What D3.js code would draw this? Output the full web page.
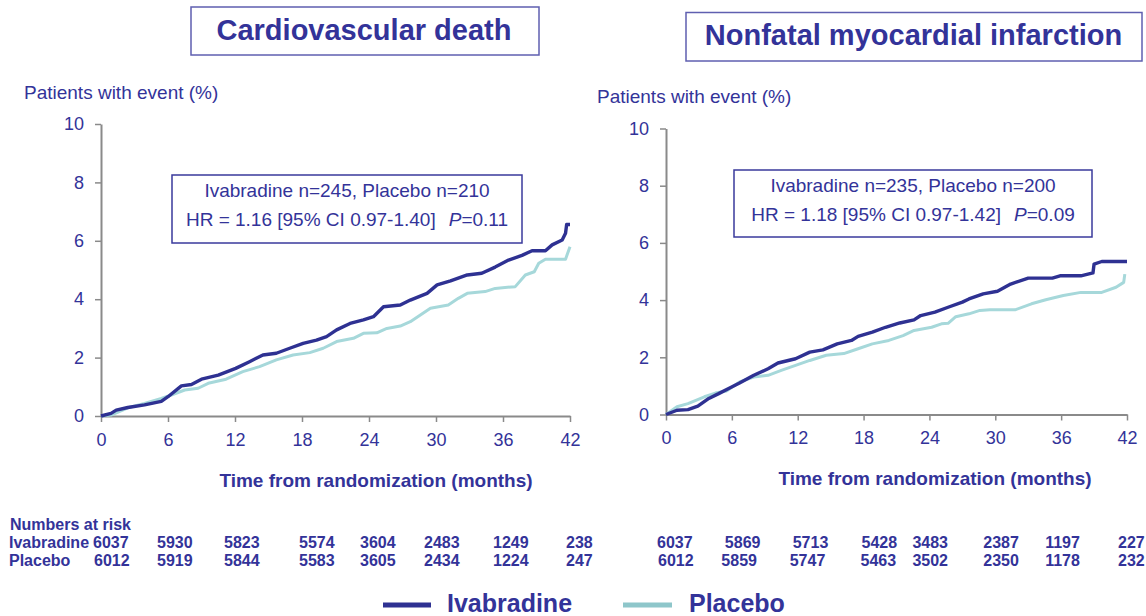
<!DOCTYPE html>
<html><head><meta charset="utf-8">
<script src="https://cdn.jsdelivr.net/npm/d3@7"></script>
<style>
body{margin:0;background:#fff}
svg{display:block}
text{font-family:"Liberation Sans",Arial,Helvetica,sans-serif}
</style>
</head><body>
<svg id="chart" width="1146" height="616"></svg>
<script>
// ---------------- DATA ----------------
const months = [0, 6, 12, 18, 24, 30, 36, 42];
const yTicks = [0, 2, 4, 6, 8, 10];
const seriesNames = ["Ivabradine", "Placebo"];
const panelTitles = ["Cardiovascular death", "Nonfatal myocardial infarction"];
const yLabel = "Patients with event (%)";
const xLabel = "Time from randomization (months)";

// Cardiovascular death – cumulative % with event
const cvIvaT = [0,0.9,1.36,2.4,3.9,5.4,6,7.2,8.1,9,10.5,12.06,13.3,14.5,15.7,16.9,18.1,19.3,20.2,21.1,22.3,23.5,24.4,25.3,26.8,27.7,29.2,30.1,31.3,32.8,34.1,35.3,36.5,37.7,38.6,39.8,40.4,41.3,41.6,41.7,42];
const cvIvaV = [0,0.09,0.2,0.29,0.38,0.5,0.66,1.03,1.08,1.26,1.4,1.63,1.86,2.09,2.15,2.32,2.49,2.6,2.72,2.95,3.17,3.29,3.4,3.74,3.8,3.97,4.2,4.49,4.63,4.83,4.89,5.1,5.34,5.5,5.66,5.66,5.86,6.03,6.26,6.56,6.56];
const cvPlaT = [0,0.9,2.4,3.9,5.4,6.3,7.5,8.7,9.6,11.2,12.7,14.2,15.7,17.2,18.7,19.9,21.1,22.6,23.5,24.7,25.6,26.8,27.7,28.6,29.5,31.1,32,32.8,34.4,35.3,37.1,38,38.8,39.2,39.8,41.6,42];
const cvPlaV = [0,0.03,0.28,0.43,0.6,0.72,0.89,0.95,1.12,1.26,1.52,1.69,1.92,2.09,2.17,2.32,2.55,2.66,2.83,2.85,3.0,3.08,3.23,3.46,3.69,3.8,4.03,4.2,4.26,4.37,4.43,4.83,4.94,5.23,5.37,5.37,5.8];

// Nonfatal MI – cumulative % with event
const miIvaT = [0,1.0,2.0,2.9,3.9,4.8,5.8,6.7,8.0,9.3,10.2,11.8,13.1,14.3,15.6,16.9,17.5,18.8,20.0,21.3,22.6,23.2,24.5,25.7,27.0,27.6,28.9,30.2,31.4,33.0,35.2,35.9,37.8,38.9,39.0,39.7,42];
const miIvaV = [0,0.15,0.17,0.29,0.56,0.73,0.93,1.1,1.37,1.6,1.8,1.95,2.18,2.26,2.47,2.59,2.73,2.88,3.05,3.2,3.31,3.46,3.58,3.75,3.93,4.04,4.22,4.31,4.56,4.77,4.77,4.85,4.85,4.95,5.26,5.35,5.35];
const miPlaT = [0,1.0,2.0,3.5,4.5,5.5,6.7,8.0,9.3,10.5,11.8,13.1,14.6,16.2,17.5,18.8,20.3,21.6,22.6,24.2,25.1,25.7,26.4,27.6,28.6,29.5,31.8,33.3,34.6,36.2,37.8,39.7,41.0,41.7,41.8];
const miPlaV = [0,0.27,0.38,0.62,0.75,0.82,1.14,1.31,1.37,1.54,1.72,1.89,2.07,2.13,2.3,2.47,2.59,2.76,2.94,3.05,3.17,3.19,3.42,3.52,3.64,3.66,3.66,3.87,4.01,4.16,4.27,4.27,4.45,4.62,4.91];

// Numbers at risk
const cvRiskIva = [6037,5930,5823,5574,3604,2483,1249,238];
const cvRiskPla = [6012,5919,5844,5583,3605,2434,1224,247];
const miRiskIva = [6037,5869,5713,5428,3483,2387,1197,227];
const miRiskPla = [6012,5859,5747,5463,3502,2350,1178,232];

// Stats box text
const cvStats = {n: "Ivabradine n=245, Placebo n=210", hr: "HR = 1.16 [95% CI 0.97-1.40]", p: "=0.11"};
const miStats = {n: "Ivabradine n=235, Placebo n=200", hr: "HR = 1.18 [95% CI 0.97-1.42]", p: "=0.09"};

// ---------------- STYLE / LAYOUT ----------------
const TXT = "#333399";
const IVA = "#2e3192";
const PLA = "#a6d8da";
const PLA_LEG = "#8ec6ca";
const AXIS = "#8a8a8a";

const svg = d3.select("#chart");
svg.append("rect").attr("width",1146).attr("height",616).attr("fill","#fff");

const zip = (t, v) => t.map((d, i) => [d, v[i]]);

const panels = [
  {x0:101, x1:570, yT:124, yB:416, title: panelTitles[0],
   tbox:{x:191,y:7,w:348,h:48,cx:364,by:40},
   ylab:{x:24,y:99},
   xlab:{cx:376,y:487},
   sbox:{x:172,y:175,w:350,h:68,cx:347,b1:197,b2:226},
   stats: cvStats,
   iva: zip(cvIvaT, cvIvaV), pla: zip(cvPlaT, cvPlaV),
   risk: [cvRiskIva, cvRiskPla],
   nudge: [[-8,-11,-11,-3,-9,-12,-10,-4],[-7,-11,-11,-3,-9,-12,-10,-4]]},
  {x0:666, x1:1127, yT:128.5, yB:414.5, title: panelTitles[1],
   tbox:{x:686,y:12.5,w:456,h:48.5,cx:913.5,by:45},
   ylab:{x:597,y:103},
   xlab:{cx:935,y:485},
   sbox:{x:734,y:170,w:358,h:67,cx:913,b1:192,b2:221},
   stats: miStats,
   iva: zip(miIvaT, miIvaV), pla: zip(miPlaT, miPlaV),
   risk: [miRiskIva, miRiskPla],
   nudge: [[-9,-7,-5,-2,-17,-12,-16,-9],[-8,-10.5,-8,-3,-17,-12,-16,-9]]}
];
const riskRowY = [548, 566];

panels.forEach(p => {
  const x = d3.scaleLinear().domain([0, 42]).range([p.x0, p.x1]);
  const y = d3.scaleLinear().domain([0, 10]).range([p.yB, p.yT]);

  // title box
  svg.append("rect").attr("x", p.tbox.x).attr("y", p.tbox.y).attr("width", p.tbox.w).attr("height", p.tbox.h)
    .attr("fill", "#fff").attr("stroke", "#5f5fb0").attr("stroke-width", 1.5);
  svg.append("text").attr("x", p.tbox.cx).attr("y", p.tbox.by).attr("text-anchor", "middle")
    .attr("font-size", 29).attr("font-weight", "bold").attr("fill", TXT).text(p.title);

  // y label
  svg.append("text").attr("x", p.ylab.x).attr("y", p.ylab.y).attr("font-size", 19).attr("fill", TXT).text(yLabel);

  // axes
  const gx = svg.append("g").attr("transform", `translate(0,${p.yB})`)
    .call(d3.axisBottom(x).tickValues(months).tickSize(6).tickSizeOuter(0).tickPadding(11));
  const gy = svg.append("g").attr("transform", `translate(${p.x0},0)`)
    .call(d3.axisLeft(y).tickValues(yTicks).tickSize(6).tickSizeOuter(0).tickPadding(11));
  [gx, gy].forEach(g => {
    g.select(".domain").attr("stroke", AXIS).attr("stroke-width", 2);
    g.selectAll(".tick line").attr("stroke", AXIS).attr("stroke-width", 1.5);
    g.selectAll(".tick text").attr("fill", TXT).attr("font-size", 18)
      .attr("font-family", '"Liberation Sans",Arial,sans-serif');
  });

  // x label
  svg.append("text").attr("x", p.xlab.cx).attr("y", p.xlab.y).attr("text-anchor", "middle")
    .attr("font-size", 19).attr("font-weight", "bold").attr("fill", TXT).text(xLabel);

  // stats box
  svg.append("rect").attr("x", p.sbox.x).attr("y", p.sbox.y).attr("width", p.sbox.w).attr("height", p.sbox.h)
    .attr("fill", "#fff").attr("stroke", "#3a3a9c").attr("stroke-width", 1.5);
  svg.append("text").attr("x", p.sbox.cx).attr("y", p.sbox.b1).attr("text-anchor", "middle")
    .attr("font-size", 19).attr("fill", TXT).text(p.stats.n);
  const t2 = svg.append("text").attr("x", p.sbox.cx).attr("y", p.sbox.b2).attr("text-anchor", "middle")
    .attr("font-size", 19).attr("fill", TXT);
  t2.append("tspan").text(p.stats.hr);
  t2.append("tspan").attr("dx", 13).attr("font-style", "italic").text("P");
  t2.append("tspan").text(p.stats.p);

  // curves
  const line = d3.line().x(d => x(d[0])).y(d => y(d[1]));
  svg.append("path").datum(p.pla).attr("d", line).attr("fill", "none")
    .attr("stroke", PLA).attr("stroke-width", 3).attr("stroke-linejoin", "round");
  svg.append("path").datum(p.iva).attr("d", line).attr("fill", "none")
    .attr("stroke", IVA).attr("stroke-width", 3.4).attr("stroke-linejoin", "round");

  // numbers at risk
  p.risk.forEach((row, r) => {
    svg.append("g").selectAll("text").data(row).join("text")
      .attr("x", (d, i) => x(months[i]) + p.nudge[r][i])
      .attr("y", riskRowY[r])
      .attr("font-size", 16).attr("font-weight", "bold").attr("fill", TXT)
      .text(d => d);
  });
});

// numbers at risk row labels
svg.append("text").attr("x", 10).attr("y", 530).attr("font-size", 16).attr("font-weight", "bold").attr("fill", TXT).text("Numbers at risk");
seriesNames.forEach((s, i) => {
  svg.append("text").attr("x", 9).attr("y", riskRowY[i]).attr("font-size", 16).attr("font-weight", "bold").attr("fill", TXT).text(s);
});

// legend
const legend = [
  {name: seriesNames[0], color: IVA, lx0: 383, lx1: 431, tx: 447},
  {name: seriesNames[1], color: PLA_LEG, lx0: 623, lx1: 672, tx: 689}
];
legend.forEach(l => {
  svg.append("line").attr("x1", l.lx0).attr("x2", l.lx1).attr("y1", 605).attr("y2", 605)
    .attr("stroke", l.color).attr("stroke-width", 5);
  svg.append("text").attr("x", l.tx).attr("y", 612).attr("font-size", 25).attr("font-weight", "bold")
    .attr("fill", TXT).text(l.name);
});
</script>
</body></html>
